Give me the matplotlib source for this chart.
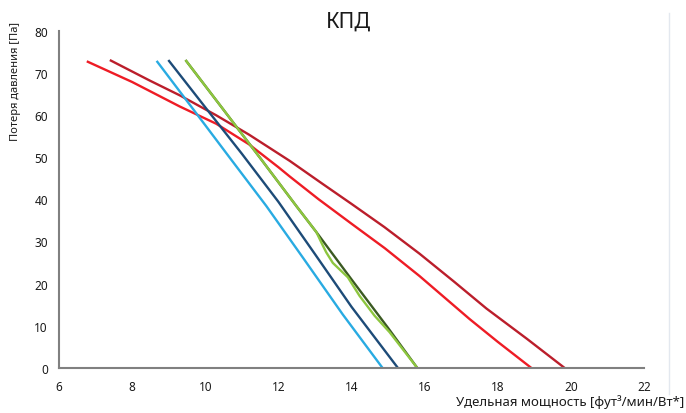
import matplotlib
matplotlib.use("Agg")
import matplotlib.pyplot as plt
from matplotlib.lines import Line2D

plt.rcParams['font.family'] = ['Noto Sans', 'DejaVu Sans']

title = "КПД"
xlabel = "Удельная мощность [фут³/мин/Вт*]"
ylabel = "Потеря давления [Па]"
xticks = [6, 8, 10, 12, 14, 16, 18, 20, 22]
yticks = [0, 10, 20, 30, 40, 50, 60, 70, 80]

red_x = [6.76, 8.0, 9.3, 10.3, 11.2, 12.0, 12.31, 13.1, 14.0, 14.91, 15.86, 17.23, 18.0, 18.92]
red_y = [72.7, 67.8, 62.0, 57.9, 53.0, 47.6, 45.4, 40.0, 34.2, 28.4, 21.8, 11.6, 6.2, 0.0]

dred_x = [7.39, 8.49, 9.31, 10.3, 11.2, 12.31, 13.2, 14.0, 14.9, 15.86, 16.8, 17.69, 18.8, 19.83]
dred_y = [73.0, 68.1, 64.6, 59.9, 55.3, 49.1, 43.7, 38.9, 33.4, 27.1, 20.5, 14.1, 6.9, 0.0]

lblue_x = [8.67, 9.7, 10.7, 11.67, 12.7, 13.76, 14.85]
lblue_y = [72.8, 61.0, 49.5, 38.4, 25.8, 12.7, 0.0]

dblue_x = [8.99, 10.0, 11.0, 12.0, 13.0, 14.0, 15.27]
dblue_y = [73.0, 61.8, 50.8, 39.4, 27.0, 14.5, 0.0]

dgreen_x = [9.46, 10.5, 11.5, 12.49, 13.04, 14.0, 15.0, 15.8]
dgreen_y = [73.0, 61.2, 49.8, 38.4, 32.2, 21.0, 9.5, 0.0]

green_x = [9.46, 10.5, 11.5, 12.49, 13.04, 13.2, 13.31, 13.49, 13.9, 14.22, 14.63, 15.04, 15.8]
green_y = [73.0, 61.2, 49.8, 38.4, 32.2, 29.3, 27.4, 24.9, 21.5, 17.1, 12.4, 8.5, 0.0]

fig = plt.figure(figsize=(6.86, 4.14), dpi=100)
ax = fig.add_axes([0.086, 0.1087, 0.8528, 0.8152])

lw = 1.7
ax.plot(red_x, red_y, color='#ee1c25', lw=lw, solid_capstyle='butt', solid_joinstyle='round')
ax.plot(dred_x, dred_y, color='#bb1e2b', lw=lw, solid_capstyle='butt', solid_joinstyle='round')
ax.plot(lblue_x, lblue_y, color='#29abe2', lw=lw, solid_capstyle='butt', solid_joinstyle='round')
ax.plot(dblue_x, dblue_y, color='#1d4b78', lw=lw, solid_capstyle='butt', solid_joinstyle='round')
ax.plot(dgreen_x, dgreen_y, color='#3b5a22', lw=lw, solid_capstyle='butt', solid_joinstyle='round')
ax.plot(green_x, green_y, color='#8dc63f', lw=lw, solid_capstyle='butt', solid_joinstyle='round')

ax.set_xlim(6, 22)
ax.set_ylim(0, 80)
ax.set_xticks(xticks)
ax.set_yticks(yticks)
ax.set_xticklabels([str(t) for t in xticks])
ax.set_yticklabels([str(t) for t in yticks])
ax.tick_params(length=0, labelsize=8.5, colors='#1a1a1a', pad=8)
ax.tick_params(axis='x', pad=9)
for s in ['top', 'right']:
    ax.spines[s].set_visible(False)
for s in ['left', 'bottom']:
    ax.spines[s].set_color('#808080')
    ax.spines[s].set_linewidth(1.5)

fig.text(0.508, 0.947, title, ha='center', va='center', fontsize=15.5, color='#1a1a1a')
fig.text(0.022, 0.804, ylabel, ha='center', va='center', rotation=90, fontsize=8, color='#1a1a1a')
fig.text(0.997, 0.012, xlabel, ha='right', va='bottom', fontsize=9.5, color='#1a1a1a')

fig.add_artist(Line2D([0.975, 0.975], [0.045, 0.965], transform=fig.transFigure,
                      color='#e3e8ef', lw=1))

fig.savefig('out.png', dpi=100)
